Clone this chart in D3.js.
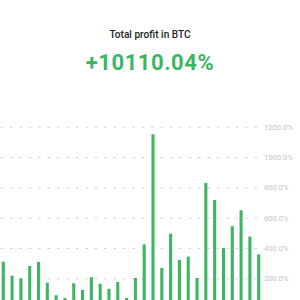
<!DOCTYPE html>
<html><head><meta charset="utf-8">
<script src="https://cdn.jsdelivr.net/npm/d3@7"></script>
<style>
html,body{margin:0;padding:0;background:#fff;overflow:hidden;}
svg{display:block;}
</style></head>
<body>
<svg id="chart" width="300" height="300"></svg>
<script>
const title = "Total profit in BTC";
const totalProfit = "+10110.04%";
const categories = d3.range(1, 31).map(i => "P" + i);
const values = [310, 217, 200, 281, 308, 171, 88, 70, 167, 123,
                207, 164, 131, 176, 70, 202, 424, 1150, 268, 494,
                321, 343, 202, 829, 717, 400, 543, 649, 475, 358];
const tickValues = [200, 400, 600, 800, 1000, 1200];

const svg = d3.select("#chart");
const green = "#3bb662";

svg.append("text").attr("x", 150).attr("y", 38.3).attr("text-anchor", "middle")
  .attr("font-family", "Roboto").attr("font-weight", 500).attr("font-size", 10.1).attr("fill", "#222")
  .text(title);
svg.append("text").attr("x", 150).attr("y", 70).attr("text-anchor", "middle")
  .attr("font-family", "Roboto").attr("font-weight", "bold").attr("font-size", 22).attr("letter-spacing", 0.55).attr("fill", green)
  .text(totalProfit);

const x = d3.scaleBand().domain(categories).range([-1.12, 263.1]).paddingInner(0.652).paddingOuter(0.326);
const y = d3.scaleLinear().domain([0, 1200]).range([308.6, 126.7]);

const yAxis = d3.axisRight(y).tickValues(tickValues).tickSize(-257).tickFormat(d => d3.format(".1f")(d) + "%");
const g = svg.append("g").attr("transform", "translate(257,0)").call(yAxis);
g.select(".domain").remove();
g.selectAll(".tick line").attr("stroke", "#cfcfcf").attr("stroke-dasharray", "2.5,6.9");
g.selectAll(".tick text").attr("x", 7).attr("fill", "#c4c4c4")
  .attr("font-family", "Roboto").attr("font-size", 7.6);

svg.append("g").selectAll("rect").data(values).join("rect")
  .attr("x", (d, i) => x(categories[i]))
  .attr("width", x.bandwidth())
  .attr("y", d => y(d))
  .attr("height", d => y(0) - y(d))
  .attr("fill", green);
</script>
</body></html>
